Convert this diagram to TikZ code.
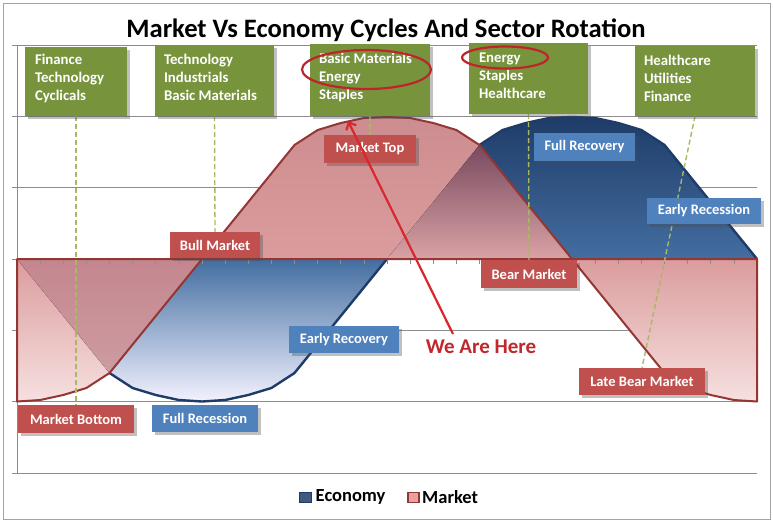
\documentclass[tikz,border=0pt]{standalone}
\usepackage{fontspec}
\setmainfont{Carlito}
\usetikzlibrary{arrows.meta,shadows}
\definecolor{boxgreen}{HTML}{77933C}
\definecolor{lblred}{HTML}{C0504D}
\definecolor{lblblue}{HTML}{4F81BD}
\definecolor{mktline}{HTML}{943634}
\definecolor{ecoline}{HTML}{1F3C68}
\definecolor{gridgray}{HTML}{8C8C8C}
\definecolor{dashcol}{HTML}{A9B862}
\definecolor{annred}{HTML}{C0242B}
\definecolor{arrred}{HTML}{DA262D}
\definecolor{wahred}{HTML}{C0282E}
\pgfdeclarelayer{chartlayer}
\pgfdeclarelayer{dashlayer}
\pgfsetlayers{chartlayer,dashlayer,main}
\begin{document}
\begin{tikzpicture}[x=1pt,y=-1pt,
  gridline/.style={gridgray, line width=0.7pt},
  tickmark/.style={gridgray, line width=0.6pt},
  shadowed/.style={drop shadow={shadow xshift=2.5pt, shadow yshift=-2.5pt, opacity=0.35, fill=black!70}},
  sectorbox/.style={shadowed, fill=boxgreen, text=white, align=flush left, inner ysep=0pt,
    font=\bfseries\fontsize{14.8}{18}\selectfont, execute at end node={\endgraf\vskip6pt\hrule height0pt depth0pt}},
  redlabel/.style={shadowed, fill=lblred, text=white, inner sep=0pt,
    font=\bfseries\fontsize{14.5}{17}\selectfont},
  bluelabel/.style={shadowed, fill=lblblue, text=white, inner sep=0pt,
    font=\bfseries\fontsize{14.5}{17}\selectfont},
  dashline/.style={dashcol, line width=1.4pt, dash pattern=on 5pt off 3pt},
  annot/.style={annred, line width=2.2pt},
  legtext/.style={font=\bfseries\fontsize{18.5}{22}\selectfont, anchor=west, inner sep=0pt}]
\useasboundingbox (0,0) rectangle (773,523);
\begin{pgfonlayer}{chartlayer}
\fill[white] (0,0) rectangle (773,523);
\draw[gridgray!80, line width=0.8pt] (3,3) rectangle (770,519);
% grid
\foreach \k in {0,...,6} {
  \draw[gridline] (12,45+71.333*\k) -- (757,45+71.333*\k);
}
\draw[gridline] (17,45) -- (17,473);
% economy area
\fill[top color=ecoline, bottom color=white!95!blue, middle color=lblblue!85!black]
 (17,259) -- (40.125,287.5) -- (63.25,316) -- (86.375,344.5) -- (109.5,373) -- (132.625,388) -- (155.75,395) -- (178.875,400) -- (202,401.5) -- (225.125,400) -- (248.25,395) -- (271.375,388) -- (294.5,373) -- (317.625,344.5) -- (340.75,316) -- (363.875,287.5) -- (387,259) -- (410.125,230.5) -- (433.25,202) -- (456.375,173.5) -- (479.5,145) -- (502.625,130) -- (525.75,123) -- (548.875,118) -- (572,117) -- (595.125,118) -- (618.25,123) -- (641.375,130) -- (664.5,145) -- (687.625,173.5) -- (710.75,202) -- (733.875,230.5) -- (757,259) -- cycle;
\draw[ecoline, line width=2.4pt, line join=round]
 (17,259) -- (40.125,287.5) -- (63.25,316) -- (86.375,344.5) -- (109.5,373) -- (132.625,388) -- (155.75,395) -- (178.875,400) -- (202,401.5) -- (225.125,400) -- (248.25,395) -- (271.375,388) -- (294.5,373) -- (317.625,344.5) -- (340.75,316) -- (363.875,287.5) -- (387,259) -- (410.125,230.5) -- (433.25,202) -- (456.375,173.5) -- (479.5,145) -- (502.625,130) -- (525.75,123) -- (548.875,118) -- (572,117) -- (595.125,118) -- (618.25,123) -- (641.375,130) -- (664.5,145) -- (687.625,173.5) -- (710.75,202) -- (733.875,230.5) -- (757,259);
% market area
\fill[top color={rgb,255:red,205;green,141;blue,144}, bottom color={rgb,255:red,247;green,224;blue,224}, middle color={rgb,255:red,219;green,156;blue,157}]
 (17,259) -- (17,401.5) -- (40.125,400) -- (63.25,395) -- (86.375,388) -- (109.5,373) -- (132.625,344.5) -- (155.75,316) -- (178.875,287.5) -- (202,259) -- (225.125,230.5) -- (248.25,202) -- (271.375,173.5) -- (294.5,145) -- (317.625,130) -- (340.75,123) -- (363.875,118) -- (387,117) -- (410.125,118) -- (433.25,123) -- (456.375,130) -- (479.5,145) -- (502.625,173.5) -- (525.75,202) -- (548.875,230.5) -- (572,259) -- (595.125,287.5) -- (618.25,316) -- (641.375,344.5) -- (664.5,373) -- (687.625,388) -- (710.75,395) -- (733.875,400) -- (757,401.5) -- (757,259) -- cycle;
% overlaps
\fill[top color={rgb,255:red,120;green,74;blue,96}, bottom color={rgb,255:red,218;green,162;blue,164}]
 (387,259) -- (479.5,145) -- (572,259) -- cycle;
\fill[top color={rgb,255:red,196;green,134;blue,142}, bottom color={rgb,255:red,205;green,156;blue,162}]
 (17,259) -- (109.5,373) -- (202,259) -- cycle;
\draw[mktline, line width=2pt, line join=round]
 (17,259) -- (17,401.5) -- (40.125,400) -- (63.25,395) -- (86.375,388) -- (109.5,373) -- (132.625,344.5) -- (155.75,316) -- (178.875,287.5) -- (202,259) -- (225.125,230.5) -- (248.25,202) -- (271.375,173.5) -- (294.5,145) -- (317.625,130) -- (340.75,123) -- (363.875,118) -- (387,117) -- (410.125,118) -- (433.25,123) -- (456.375,130) -- (479.5,145) -- (502.625,173.5) -- (525.75,202) -- (548.875,230.5) -- (572,259) -- (595.125,287.5) -- (618.25,316) -- (641.375,344.5) -- (664.5,373) -- (687.625,388) -- (710.75,395) -- (733.875,400) -- (757,401.5) -- (757,259) -- cycle;
\foreach \i in {1,...,31} {
  \draw[tickmark] (17+23.125*\i,260) -- (17+23.125*\i,264);
}
\end{pgfonlayer}

% title
\node[font=\bfseries\fontsize{26.6}{32}\selectfont] (title) at (386,30) {Market Vs Economy Cycles And Sector Rotation};

% sector boxes
\node[sectorbox, minimum width=102pt, minimum height=69pt, text width=82pt, inner xsep=10pt] (b1) at (76,81.5) {Finance\\Technology\\Cyclicals};
\node[sectorbox, minimum width=119pt, minimum height=71pt, text width=101pt, inner xsep=9pt] (b2) at (214.5,80.5) {Technology\\Industrials\\Basic Materials};
\node[sectorbox, minimum width=120pt, minimum height=72pt, text width=102pt, inner xsep=9pt] (b3) at (370,80) {Basic Materials\\Energy\\Staples};
\node[sectorbox, minimum width=119pt, minimum height=71pt, text width=99pt, inner xsep=10pt] (b4) at (528.5,78.5) {Energy\\Staples\\Healthcare};
\node[sectorbox, minimum width=120pt, minimum height=70pt, text width=102pt, inner xsep=9pt] (b5) at (695,81) {Healthcare\\Utilities\\Finance};

% phase labels
\node[redlabel, minimum width=116pt, minimum height=28pt] (mbottom) at (76,419) {Market Bottom};
\node[redlabel, minimum width=90pt, minimum height=26pt] (bull) at (215,245) {Bull Market};
\node[redlabel, minimum width=92pt, minimum height=28pt] (mtop) at (370,149) {Market Top};
\node[redlabel, minimum width=96pt, minimum height=28pt] (bear) at (529,274) {Bear Market};
\node[redlabel, minimum width=126pt, minimum height=27pt] (latebear) at (642,381.5) {Late Bear Market};
\node[bluelabel, minimum width=101pt, minimum height=28pt] (fullrec) at (584.5,147) {Full Recovery};
\node[bluelabel, minimum width=114pt, minimum height=26pt] (earlyrec) at (704,211) {Early Recession};
\node[bluelabel, minimum width=110pt, minimum height=27pt] (earlyrecov) at (344,339.5) {Early Recovery};
\node[bluelabel, minimum width=106pt, minimum height=27pt] (fullrecess) at (205,418.5) {Full Recession};

% dashed connectors (drawn beneath the boxes and labels)
\begin{pgfonlayer}{dashlayer}
\draw[dashline] (b1.south) -- (mbottom.north);
\draw[dashline] (b2.south) -- (bull.north);
\draw[dashline] (b3.south) -- (mtop.north);
\draw[dashline] (b4.south) -- (bear.north);
\draw[dashline] (b5.south) -- (latebear.north);
\end{pgfonlayer}

% annotation ellipses
\draw[annot] (366.5,69.5) ellipse [x radius=64.5pt, y radius=19.5pt];
\draw[annot] (505,57.5) ellipse [x radius=43pt, y radius=11pt];

% we are here
\node[font=\bfseries\fontsize{21}{25}\selectfont, text=wahred] (wah) at (481,347) {We Are Here};
\coordinate (arrowstart) at (453,334);
\coordinate (arrowtip) at (348,121);
\draw[arrred, line width=2.2pt, -{Straight Barb[length=6pt,width=11pt]}] (arrowstart) -- (arrowtip);

% legend
\node[draw=ecoline, fill=ecoline!85!white, minimum width=12pt, minimum height=10pt, inner sep=0pt, line width=0.8pt] (legeco) at (305.5,497.5) {};
\node[legtext] (legecot) at (315.5,497) {Economy};
\node[draw=mktline, fill={rgb,255:red,232;green,160;blue,160}, minimum width=11pt, minimum height=10pt, inner sep=0pt, line width=1.4pt] (legmkt) at (413.5,497.5) {};
\node[legtext] (legmktt) at (422,497) {Market};
\end{tikzpicture}
\end{document}
